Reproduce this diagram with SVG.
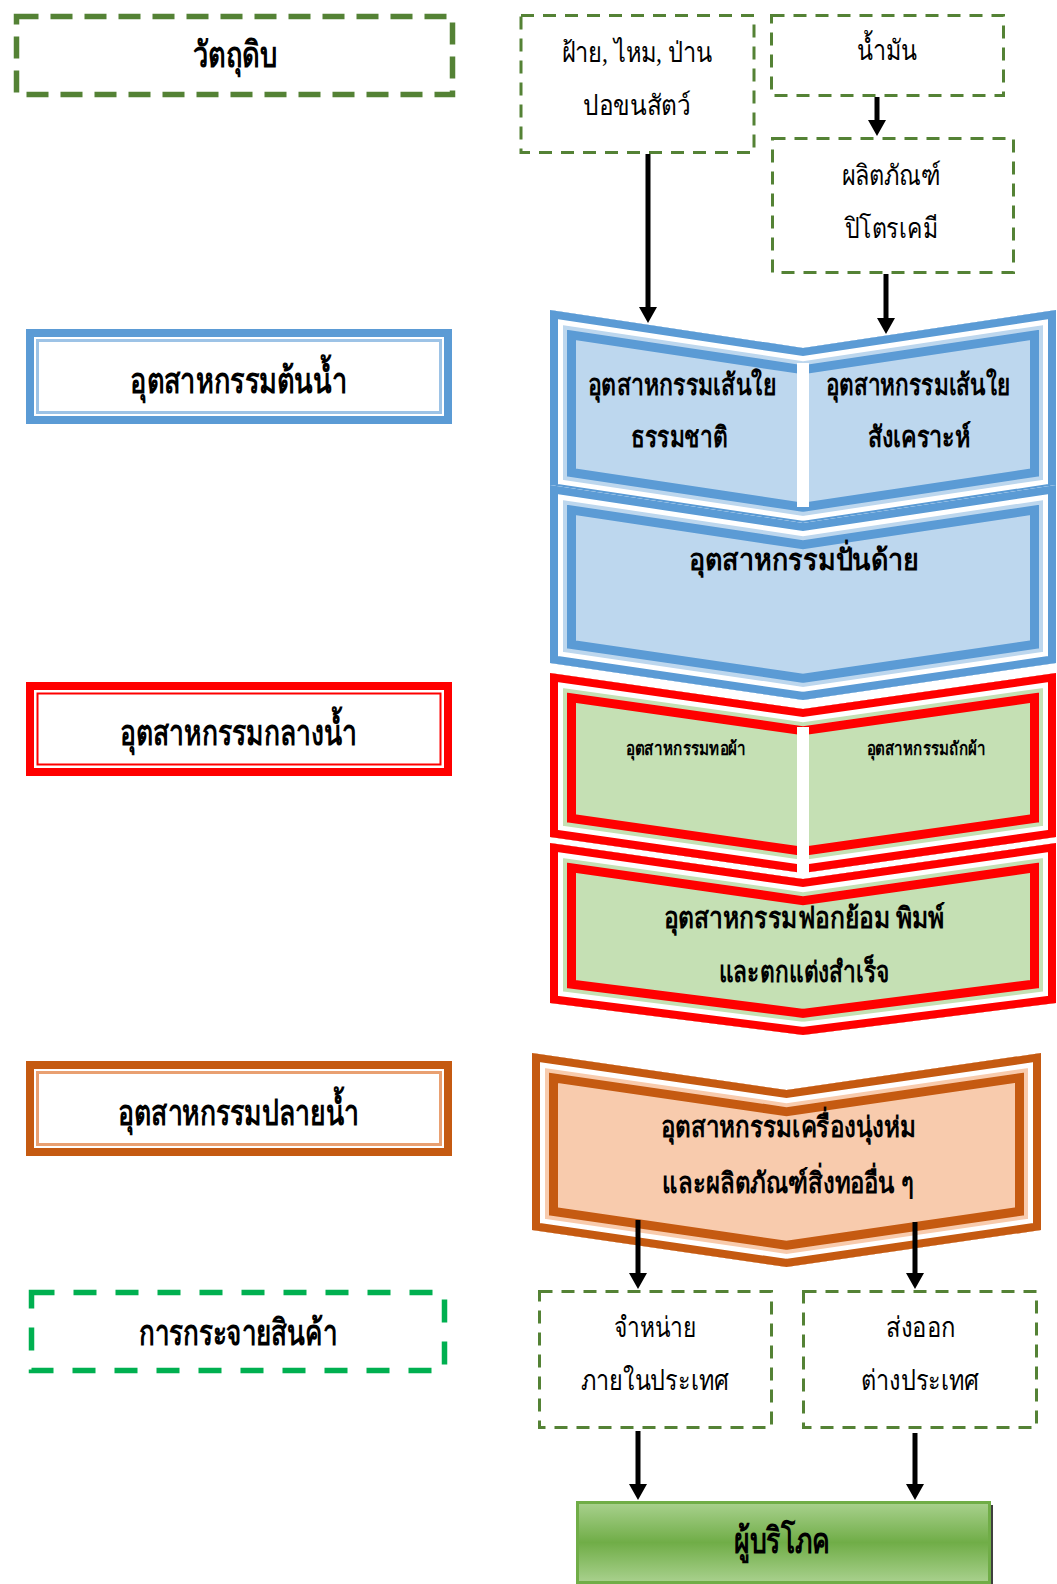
<svg xmlns="http://www.w3.org/2000/svg" xmlns:xlink="http://www.w3.org/1999/xlink" width="1057" height="1584" viewBox="0 0 1057 1584">
<style>
  text { font-family: 'Liberation Serif', 'Noto Sans', serif; fill: #000; text-anchor: middle; }
  .b { font-weight: bold; font-size: 36px; }
  .r { font-weight: normal; font-size: 28px; }
  .m { font-weight: bold; font-size: 29px; }
  .s { font-weight: bold; font-size: 19px; }
  .dash5 { fill: none; stroke: #548235; stroke-width: 5.5; stroke-dasharray: 22 12; }
  .dash3 { fill: none; stroke: #548235; stroke-width: 3; stroke-dasharray: 13 9; }
  .conn { stroke: #000; stroke-width: 5; fill: none; marker-end: url(#ah); }
</style>
<defs>
  <marker id="ah" viewBox="0 0 16 18" refX="10" refY="9" markerWidth="16" markerHeight="18" markerUnits="userSpaceOnUse" orient="auto">
    <path d="M0,0 L16,9 L0,18 Z" fill="#000"/>
  </marker>
  <linearGradient id="gg" x1="0" y1="0" x2="0" y2="1">
    <stop offset="0" stop-color="#A9D18E"/>
    <stop offset="0.5" stop-color="#70AD47"/>
    <stop offset="1" stop-color="#A9D18E"/>
  </linearGradient>
  <path id="pb1" d="M550,310 L803,348 L1056,310 L1056,491 L803,529 L550,491 Z"/>
  <path id="pb2" d="M550,485 L803,523 L1056,485 L1056,663 L803,700 L550,663 Z"/>
  <path id="pr1" d="M550,673 L803,709 L1056,673 L1056,837 L803,873 L550,837 Z"/>
  <path id="pr2" d="M550,843 L803,879 L1056,843 L1056,1003 L803,1035 L550,1003 Z"/>
  <path id="po" d="M532,1053 L786.5,1090 L1041,1053 L1041,1230 L786.5,1267 L532,1230 Z"/>
  <clipPath id="cb1"><use xlink:href="#pb1"/></clipPath>
  <clipPath id="cb2"><use xlink:href="#pb2"/></clipPath>
  <clipPath id="cr1"><use xlink:href="#pr1"/></clipPath>
  <clipPath id="cr2"><use xlink:href="#pr2"/></clipPath>
  <clipPath id="co"><use xlink:href="#po"/></clipPath>
</defs>
<rect width="1057" height="1584" fill="#fff"/>

<!-- left stage labels -->
<g id="raw-label">
  <rect class="dash5" x="16.5" y="16.5" width="436" height="78"/>
  <text class="b" x="235" y="67" textLength="84" lengthAdjust="spacingAndGlyphs">วัตถุดิบ</text>
</g>
<g id="upstream-label">
  <rect x="30" y="333" width="418" height="87" fill="#fff" stroke="#5B9BD5" stroke-width="8"/>
  <rect x="37.5" y="340.5" width="403" height="72" fill="none" stroke="#9DC3E6" stroke-width="3"/>
  <text class="b" x="238.5" y="393" textLength="217" lengthAdjust="spacingAndGlyphs">อุตสาหกรรมต้นน้ำ</text>
</g>
<g id="midstream-label">
  <rect x="30" y="686" width="418" height="86" fill="#fff" stroke="#FF0000" stroke-width="8"/>
  <rect x="37.5" y="693.5" width="403" height="71" fill="none" stroke="#FF0000" stroke-width="2"/>
  <text class="b" x="238.5" y="745" textLength="237" lengthAdjust="spacingAndGlyphs">อุตสาหกรรมกลางน้ำ</text>
</g>
<g id="downstream-label">
  <rect x="30" y="1065" width="418" height="87" fill="#fff" stroke="#C55A11" stroke-width="8"/>
  <rect x="37.5" y="1072.5" width="403" height="72" fill="none" stroke="#E9A071" stroke-width="3"/>
  <text class="b" x="238.5" y="1125" textLength="241" lengthAdjust="spacingAndGlyphs">อุตสาหกรรมปลายน้ำ</text>
</g>
<g id="distribution-label">
  <rect x="31.5" y="1292.5" width="413" height="78" fill="none" stroke="#00B050" stroke-width="5.5" stroke-dasharray="23 19"/>
  <text class="b" x="238" y="1345" textLength="198" lengthAdjust="spacingAndGlyphs">การกระจายสินค้า</text>
</g>

<!-- raw materials -->
<g id="natural-raw">
  <rect class="dash3" x="521" y="15.5" width="233" height="137"/>
  <text class="r" x="637" y="62" textLength="151" lengthAdjust="spacingAndGlyphs">ฝ้าย, ไหม, ป่าน</text>
  <text class="r" x="637" y="115" textLength="108" lengthAdjust="spacingAndGlyphs">ปอขนสัตว์</text>
</g>
<g id="oil">
  <rect class="dash3" x="771.5" y="15.5" width="232" height="80"/>
  <text class="r" x="887" y="60" textLength="60" lengthAdjust="spacingAndGlyphs">น้ำมัน</text>
</g>
<g id="petrochem">
  <rect class="dash3" x="772.5" y="138.5" width="241" height="134"/>
  <text class="r" x="891" y="185" textLength="99" lengthAdjust="spacingAndGlyphs">ผลิตภัณฑ์</text>
  <text class="r" x="891" y="238" textLength="93" lengthAdjust="spacingAndGlyphs">ปิโตรเคมี</text>
</g>

<!-- upstream chevrons -->
<g id="fiber-industry">
  <g clip-path="url(#cb1)">
    <use xlink:href="#pb1" fill="#BDD7EE" stroke="#5B9BD5" stroke-width="52"/>
    <use xlink:href="#pb1" fill="none" stroke="#BDD7EE" stroke-width="34"/>
    <use xlink:href="#pb1" fill="none" stroke="#fff" stroke-width="26"/>
    <use xlink:href="#pb1" fill="none" stroke="#5B9BD5" stroke-width="16"/>
  </g>
  <rect x="797" y="363" width="12" height="144" fill="#fff"/>
  <text class="m" x="682" y="395" textLength="188" lengthAdjust="spacingAndGlyphs">อุตสาหกรรมเส้นใย</text>
  <text class="m" x="679" y="447" textLength="97" lengthAdjust="spacingAndGlyphs">ธรรมชาติ</text>
  <text class="m" x="918" y="395" textLength="184" lengthAdjust="spacingAndGlyphs">อุตสาหกรรมเส้นใย</text>
  <text class="m" x="919" y="447" textLength="103" lengthAdjust="spacingAndGlyphs">สังเคราะห์</text>
</g>
<g id="spinning">
  <g clip-path="url(#cb2)">
    <use xlink:href="#pb2" fill="#BDD7EE" stroke="#5B9BD5" stroke-width="52"/>
    <use xlink:href="#pb2" fill="none" stroke="#BDD7EE" stroke-width="34"/>
    <use xlink:href="#pb2" fill="none" stroke="#fff" stroke-width="26"/>
    <use xlink:href="#pb2" fill="none" stroke="#5B9BD5" stroke-width="16"/>
  </g>
  <text class="m" x="804" y="570" textLength="230" lengthAdjust="spacingAndGlyphs">อุตสาหกรรมปั่นด้าย</text>
</g>

<!-- midstream chevrons -->
<g id="fabric-industry">
  <g clip-path="url(#cr1)">
    <use xlink:href="#pr1" fill="#C5E0B4" stroke="#FF0000" stroke-width="52"/>
    <use xlink:href="#pr1" fill="none" stroke="#C5E0B4" stroke-width="34"/>
    <use xlink:href="#pr1" fill="none" stroke="#fff" stroke-width="26"/>
    <use xlink:href="#pr1" fill="none" stroke="#FF0000" stroke-width="16"/>
  </g>
  <rect x="797" y="727" width="12" height="155" fill="#fff"/>
  <text class="s" x="686" y="755" textLength="120" lengthAdjust="spacingAndGlyphs">อุตสาหกรรมทอผ้า</text>
  <text class="s" x="926" y="755" textLength="119" lengthAdjust="spacingAndGlyphs">อุตสาหกรรมถักผ้า</text>
</g>
<g id="dyeing">
  <g clip-path="url(#cr2)">
    <use xlink:href="#pr2" fill="#C5E0B4" stroke="#FF0000" stroke-width="52"/>
    <use xlink:href="#pr2" fill="none" stroke="#C5E0B4" stroke-width="34"/>
    <use xlink:href="#pr2" fill="none" stroke="#fff" stroke-width="26"/>
    <use xlink:href="#pr2" fill="none" stroke="#FF0000" stroke-width="16"/>
  </g>
  <text class="m" x="804" y="928" textLength="281" lengthAdjust="spacingAndGlyphs">อุตสาหกรรมฟอกย้อม พิมพ์</text>
  <text class="m" x="804" y="982" textLength="171" lengthAdjust="spacingAndGlyphs">และตกแต่งสำเร็จ</text>
</g>

<!-- downstream chevron -->
<g id="apparel">
  <g clip-path="url(#co)">
    <use xlink:href="#po" fill="#F8CBAD" stroke="#C55A11" stroke-width="52"/>
    <use xlink:href="#po" fill="none" stroke="#F8CBAD" stroke-width="34"/>
    <use xlink:href="#po" fill="none" stroke="#fff" stroke-width="26"/>
    <use xlink:href="#po" fill="none" stroke="#C55A11" stroke-width="16"/>
  </g>
  <text class="m" x="788" y="1137" textLength="255" lengthAdjust="spacingAndGlyphs">อุตสาหกรรมเครื่องนุ่งห่ม</text>
  <text class="m" x="788" y="1193" textLength="252" lengthAdjust="spacingAndGlyphs">และผลิตภัณฑ์สิ่งทออื่น ๆ</text>
</g>

<!-- distribution -->
<g id="domestic">
  <rect class="dash3" x="539.5" y="1291.5" width="232" height="136"/>
  <text class="r" x="655" y="1337" textLength="82" lengthAdjust="spacingAndGlyphs">จำหน่าย</text>
  <text class="r" x="655" y="1390" textLength="148" lengthAdjust="spacingAndGlyphs">ภายในประเทศ</text>
</g>
<g id="export">
  <rect class="dash3" x="803.5" y="1291.5" width="233" height="136"/>
  <text class="r" x="921" y="1337" textLength="70" lengthAdjust="spacingAndGlyphs">ส่งออก</text>
  <text class="r" x="920" y="1390" textLength="119" lengthAdjust="spacingAndGlyphs">ต่างประเทศ</text>
</g>
<g id="consumer">
  <rect x="579" y="1505" width="414" height="80" fill="#3F3F3F"/>
  <rect x="577.5" y="1502.5" width="412" height="80" fill="url(#gg)" stroke="#70AD47" stroke-width="3"/>
  <text class="b" x="782" y="1553" textLength="96" lengthAdjust="spacingAndGlyphs">ผู้บริโภค</text>
</g>

<!-- connectors -->
<g id="connectors">
  <line class="conn" x1="648" y1="154" x2="648" y2="317"/>
  <line class="conn" x1="877" y1="97" x2="877" y2="130"/>
  <line class="conn" x1="886" y1="274" x2="886" y2="328"/>
  <line class="conn" x1="638" y1="1220" x2="638" y2="1283"/>
  <line class="conn" x1="915" y1="1222" x2="915" y2="1283"/>
  <line class="conn" x1="638" y1="1431" x2="638" y2="1494"/>
  <line class="conn" x1="915" y1="1433" x2="915" y2="1494"/>
</g>
</svg>
